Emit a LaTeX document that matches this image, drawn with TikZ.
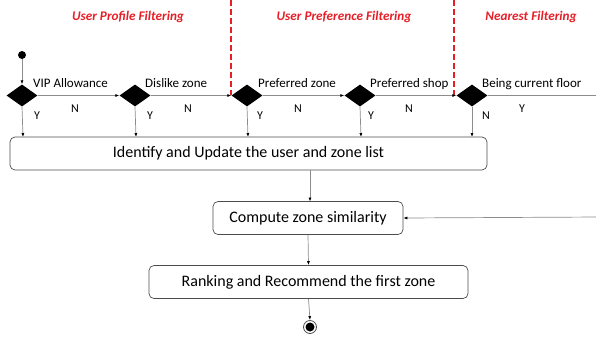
\documentclass[tikz,border=0pt]{standalone}
\usepackage{fontspec}
\setmainfont{Carlito}
\usetikzlibrary{shapes.geometric,arrows.meta}
\definecolor{linegray}{gray}{0.55}
\definecolor{titlered}{RGB}{230,30,40}
\begin{document}
\begin{tikzpicture}[x=1pt,y=-1pt,
  decision/.style={diamond,fill=black,minimum width=31pt,minimum height=22pt,inner sep=0pt,aspect=1.4},
  flow/.style={draw=linegray,line width=0.7pt,-{Latex[length=4pt,width=3pt,color=black]}},
  plain/.style={draw=linegray,line width=0.7pt},
  lbl/.style={font=\fontsize{13}{15}\selectfont,inner sep=0pt,anchor=base west},
  yn/.style={font=\fontsize{12}{14}\selectfont,inner sep=0pt},
  stage/.style={font=\fontsize{13.2}{15}\selectfont\bfseries\itshape,text=titlered,inner sep=0pt},
  action/.style={draw=black!70,line width=0.7pt,rounded corners=5pt,font=\fontsize{16}{19}\selectfont,inner sep=0pt},
  divider/.style={draw=titlered,line width=1.8pt,dash pattern=on 6pt off 3pt}]
\useasboundingbox (0,0) rectangle (596,338);
\clip (0,0) rectangle (596,338);

% stage titles and dividers
\node[stage] (t1) at (128,17) {User Profile Filtering};
\node[stage] (t2) at (344,17) {User Preference Filtering};
\node[stage] (t3) at (531,17) {Nearest Filtering};
\coordinate (d1top) at (231,0);
\coordinate (d1bot) at (231,95);
\coordinate (d2top) at (454,0);
\coordinate (d2bot) at (454,95);
\draw[divider] (d1top) -- (d1bot);
\draw[divider] (d2top) -- (d2bot);

% initial node
\node[circle,fill=black,minimum size=8pt,inner sep=0pt] (start) at (22,55) {};

% decisions
\node[decision] (q1) at (22,95.5) {};
\node[decision] (q2) at (135,95.5) {};
\node[decision] (q3) at (247,95.5) {};
\node[decision] (q4) at (360,95.5) {};
\node[decision] (q5) at (472,95.5) {};

% decision captions
\node[lbl] (c1) at (33,87) {VIP Allowance};
\node[lbl] (c2) at (145,87) {Dislike zone};
\node[lbl] (c3) at (258,87) {Preferred zone};
\node[lbl] (c4) at (370,87) {Preferred shop};
\node[lbl] (c5) at (482,87) {Being current floor};

% branch marks
\node[yn] (y1) at (37,116) {Y};
\node[yn] (n1) at (75,109) {N};
\node[yn] (y2) at (150,116) {Y};
\node[yn] (n2) at (188,109) {N};
\node[yn] (y3) at (260,116) {Y};
\node[yn] (n3) at (298,109) {N};
\node[yn] (y4) at (371,116) {Y};
\node[yn] (n4) at (409,109) {N};
\node[yn] (n5) at (486,116) {N};
\node[yn] (y5) at (522,109) {Y};

% actions
\node[action,minimum width=477pt,minimum height=33pt] (upd) at (248.5,153.5) {Identify and Update the user and zone list};
\node[action,minimum width=190pt,minimum height=33pt] (sim) at (308,218) {Compute zone similarity};
\node[action,minimum width=319pt,minimum height=33pt] (rank) at (308.5,282) {Ranking and Recommend the first zone};

% final node
\node[circle,draw=black!70,line width=0.8pt,minimum size=13pt,inner sep=0pt] (stop) at (310,327) {};
\node[circle,fill=black,minimum size=9pt,inner sep=0pt] (stopin) at (310,327) {};

% flow along the filters
\draw[flow] (start) -- (q1.north);
\draw[flow] (q1.east) -- (q2.west);
\draw[flow] (q2.east) -- (q3.west);
\draw[flow] (q3.east) -- (q4.west);
\draw[flow] (q4.east) -- (q5.west);

% branches into the list update
\foreach \q/\x in {q1/23,q2/136,q3/248,q4/361,q5/472}{
  \draw[flow] (\q.south) -- (\x,137);
}

% loop from the last filter back into the similarity step
\coordinate (loopa) at (600,95.5);
\coordinate (loopb) at (600,217);
\draw[plain] (q5.east) -- (loopa) -- (loopb);
\draw[flow] (loopb) -- (sim.east);

\draw[flow] (310,170) -- (310,201.5);
\draw[flow] (sim.south) -- (rank.north);
\draw[flow] (rank.south) -- (stop.north);
\end{tikzpicture}
\end{document}
